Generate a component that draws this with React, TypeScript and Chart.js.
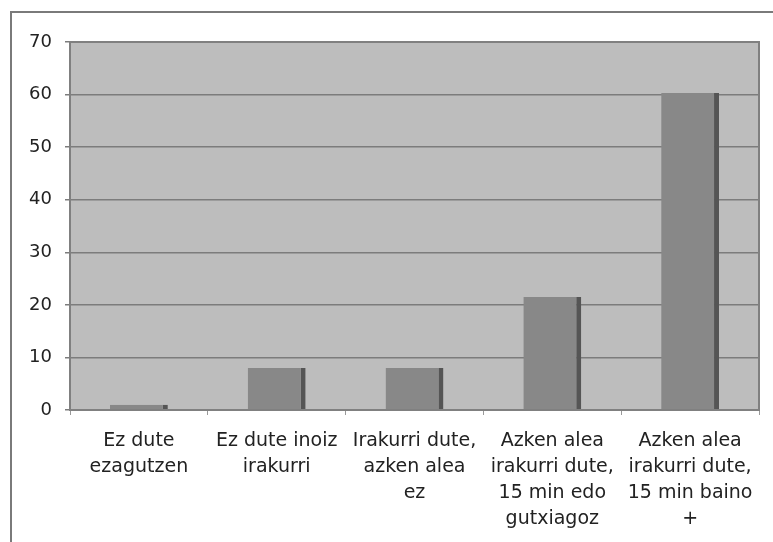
import React, { useEffect, useRef } from "react";
import { Chart, registerables } from "chart.js";

Chart.register(...registerables);

const categories: string[][] = [
  ["Ez dute", "ezagutzen"],
  ["Ez dute inoiz", "irakurri"],
  ["Irakurri dute,", "azken alea", "ez"],
  ["Azken alea", "irakurri dute,", "15 min edo", "gutxiagoz"],
  ["Azken alea", "irakurri dute,", "15 min baino", "+"],
];
const values: number[] = [1, 8, 8, 21.5, 60.3];
const yTicks: number[] = [0, 10, 20, 30, 40, 50, 60, 70];

const FONT = "'DejaVu Sans', Verdana, sans-serif";

const framePlugin = {
  id: "frame",
  beforeDraw(chart: any) {
    const { ctx, chartArea: a } = chart;
    ctx.save();
    ctx.fillStyle = "#ffffff";
    ctx.fillRect(0, 0, chart.width, chart.height);
    ctx.strokeStyle = "#7a7a7a";
    ctx.lineWidth = 2;
    ctx.strokeRect(11, 12, 800, 600);
    ctx.fillStyle = "#bdbdbd";
    ctx.fillRect(a.left, a.top, a.right - a.left, a.bottom - a.top);
    ctx.restore();
  },
  afterDatasetsDraw(chart: any) {
    const { ctx, chartArea: a } = chart;
    ctx.save();
    ctx.strokeStyle = "#808080";
    ctx.lineWidth = 2;
    ctx.strokeRect(a.left, a.top, a.right - a.left, a.bottom - a.top);
    ctx.restore();
  },
};

export default function App() {
  const ref = useRef<HTMLCanvasElement | null>(null);
  useEffect(() => {
    document.body.style.margin = "0";
    const chart = new Chart(ref.current as HTMLCanvasElement, {
      type: "bar",
      data: {
        labels: categories,
        datasets: [
          {
            data: values,
            backgroundColor: "#888888",
            borderColor: "#555555",
            borderWidth: { top: 0, left: 0, right: 5, bottom: 0 },
            borderSkipped: false,
            barPercentage: 0.42,
            categoryPercentage: 1,
          },
        ],
      },
      options: {
        responsive: false,
        animation: false,
        events: [],
        layout: { padding: { left: 0, top: 42, right: 14, bottom: 0 } },
        plugins: { legend: { display: false }, tooltip: { enabled: false } },
        scales: {
          y: {
            min: 0,
            max: 70,
            afterBuildTicks: (s: any) => {
              s.ticks = yTicks.map((v) => ({ value: v }));
            },
            afterFit: (s: any) => {
              s.width = 70;
            },
            border: { display: true, color: "#808080", width: 2 },
            grid: { color: "#7c7c7c", lineWidth: 1.5, tickLength: 5, drawTicks: true },
            ticks: { color: "#222", font: { family: FONT, size: 18 }, padding: 13 },
          },
          x: {
            afterFit: (s: any) => {
              s.height = 132;
            },
            border: { display: true, color: "#808080", width: 2 },
            grid: { drawOnChartArea: false, drawTicks: true, tickLength: 5, color: "#999", offset: true },
            ticks: {
              color: "#222",
              maxRotation: 0,
              autoSkip: false,
              font: { family: FONT, size: 19, lineHeight: 1.37 },
              padding: 13,
            },
          },
        },
      },
      plugins: [framePlugin],
    });
    return () => chart.destroy();
  }, []);
  return (
    <div style={{ position: "absolute", left: 0, top: 0, width: 773, height: 542 }}>
      <canvas ref={ref} width={773} height={542} />
    </div>
  );
}
